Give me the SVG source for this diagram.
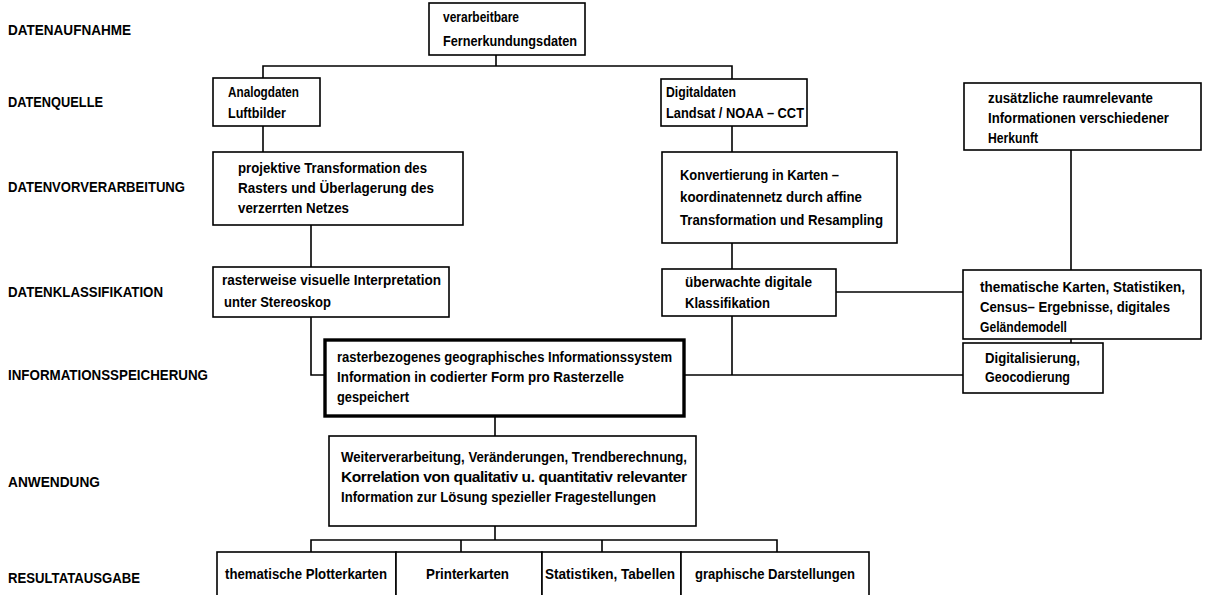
<svg xmlns="http://www.w3.org/2000/svg" width="1207" height="595" viewBox="0 0 1207 595">
<style>
text{font-family:"Liberation Sans Narrow","Liberation Sans",Arial,sans-serif;font-weight:bold;fill:#000;font-size:15.5px}
.lbl{font-size:15.5px}
.sm{font-size:14.5px}
.box{fill:#fff;stroke:#000;stroke-width:1.6}
.bold{fill:#fff;stroke:#000;stroke-width:3.4}
.c{fill:none;stroke:#000;stroke-width:1.6}
</style>
<rect width="1207" height="595" fill="#fff"/>
<g id="labels">
<text class="lbl" x="8" y="35" textLength="123" lengthAdjust="spacingAndGlyphs">DATENAUFNAHME</text>
<text class="lbl" x="8" y="107" textLength="95" lengthAdjust="spacingAndGlyphs">DATENQUELLE</text>
<text class="lbl" x="8" y="192" textLength="177" lengthAdjust="spacingAndGlyphs">DATENVORVERARBEITUNG</text>
<text class="lbl" x="8" y="297" textLength="155" lengthAdjust="spacingAndGlyphs">DATENKLASSIFIKATION</text>
<text class="lbl" x="8" y="380" textLength="200" lengthAdjust="spacingAndGlyphs">INFORMATIONSSPEICHERUNG</text>
<text class="lbl" x="8" y="487" textLength="92" lengthAdjust="spacingAndGlyphs">ANWENDUNG</text>
<text class="lbl" x="8" y="583" textLength="132" lengthAdjust="spacingAndGlyphs">RESULTATAUSGABE</text>
</g>
<g id="connectors">
<polyline class="c" points="496,55 496,66"/>
<polyline class="c" points="263,78 263,66 732,66 732,79"/>
<line class="c" x1="263" y1="126" x2="263" y2="152"/>
<line class="c" x1="732" y1="126" x2="732" y2="152"/>
<line class="c" x1="311" y1="225" x2="311" y2="267"/>
<line class="c" x1="732" y1="243" x2="732" y2="269"/>
<line class="c" x1="1071" y1="150" x2="1071" y2="270"/>
<line class="c" x1="836" y1="292" x2="963" y2="292"/>
<polyline class="c" points="311,317 311,375 325,375"/>
<line class="c" x1="684" y1="375" x2="963" y2="375"/>
<line class="c" x1="732" y1="316" x2="732" y2="375"/>
<line class="c" x1="1071" y1="339" x2="1071" y2="343"/>
<line class="c" x1="495" y1="416" x2="495" y2="436"/>
<line class="c" x1="495" y1="526" x2="495" y2="540"/>
<polyline class="c" points="311,552 311,540 777,540 777,552"/>
<line class="c" x1="461" y1="540" x2="461" y2="552"/>
<line class="c" x1="602" y1="540" x2="602" y2="552"/>
</g>
<g id="n-fernerkundung">
<rect class="box" x="429" y="3" width="156" height="52"/>
<text x="443" y="22" textLength="76" lengthAdjust="spacingAndGlyphs">verarbeitbare</text>
<text x="443" y="46" textLength="134" lengthAdjust="spacingAndGlyphs">Fernerkundungsdaten</text>
</g>
<g id="n-analog">
<rect class="box" x="213" y="78" width="107" height="48"/>
<text x="228" y="97" textLength="71" lengthAdjust="spacingAndGlyphs">Analogdaten</text>
<text x="228" y="118" textLength="58" lengthAdjust="spacingAndGlyphs">Luftbilder</text>
</g>
<g id="n-digital">
<rect class="box" x="661" y="79" width="146" height="47"/>
<text x="666" y="97" textLength="70" lengthAdjust="spacingAndGlyphs">Digitaldaten</text>
<text x="666" y="118" textLength="138" lengthAdjust="spacingAndGlyphs">Landsat / NOAA – CCT</text>
</g>
<g id="n-zusatz">
<rect class="box" x="964" y="83" width="237" height="67"/>
<text class="sm" x="988" y="103" textLength="165" lengthAdjust="spacingAndGlyphs">zusätzliche raumrelevante</text>
<text class="sm" x="988" y="123" textLength="181" lengthAdjust="spacingAndGlyphs">Informationen verschiedener</text>
<text class="sm" x="988" y="143" textLength="50" lengthAdjust="spacingAndGlyphs">Herkunft</text>
</g>
<g id="n-projektiv">
<rect class="box" x="213" y="152" width="250" height="73"/>
<text x="238" y="173" textLength="189" lengthAdjust="spacingAndGlyphs">projektive Transformation des</text>
<text x="238" y="193" textLength="196" lengthAdjust="spacingAndGlyphs">Rasters  und  Überlagerung des</text>
<text x="238" y="213" textLength="111" lengthAdjust="spacingAndGlyphs">verzerrten Netzes</text>
</g>
<g id="n-konvert">
<rect class="box" x="662" y="152" width="235" height="91"/>
<text x="680" y="180" textLength="159" lengthAdjust="spacingAndGlyphs">Konvertierung in Karten –</text>
<text x="680" y="202" textLength="182" lengthAdjust="spacingAndGlyphs">koordinatennetz durch affine</text>
<text x="680" y="225" textLength="203" lengthAdjust="spacingAndGlyphs">Transformation und Resampling</text>
</g>
<g id="n-raster">
<rect class="box" x="213" y="267" width="236" height="50"/>
<text x="222" y="285" textLength="219" lengthAdjust="spacingAndGlyphs">rasterweise visuelle Interpretation</text>
<text x="224" y="307" textLength="107" lengthAdjust="spacingAndGlyphs">unter Stereoskop</text>
</g>
<g id="n-ueberwacht">
<rect class="box" x="662" y="269" width="174" height="47"/>
<text x="685" y="287" textLength="127" lengthAdjust="spacingAndGlyphs">überwachte digitale</text>
<text x="685" y="308" textLength="85" lengthAdjust="spacingAndGlyphs">Klassifikation</text>
</g>
<g id="n-thematisch">
<rect class="box" x="963" y="270" width="238" height="69"/>
<text class="sm" x="980" y="292" textLength="205" lengthAdjust="spacingAndGlyphs">thematische Karten, Statistiken,</text>
<text class="sm" x="980" y="312" textLength="190" lengthAdjust="spacingAndGlyphs">Census–  Ergebnisse, digitales</text>
<text class="sm" x="980" y="332" textLength="87" lengthAdjust="spacingAndGlyphs">Geländemodell</text>
</g>
<g id="n-digitalisierung">
<rect class="box" x="963" y="343" width="140" height="50"/>
<text x="985" y="363" textLength="95" lengthAdjust="spacingAndGlyphs">Digitalisierung,</text>
<text x="985" y="382" textLength="85" lengthAdjust="spacingAndGlyphs">Geocodierung</text>
</g>
<g id="n-gis">
<rect class="bold" x="325" y="340" width="359" height="76"/>
<text x="337" y="362" textLength="335" lengthAdjust="spacingAndGlyphs">rasterbezogenes geographisches Informationssystem</text>
<text x="337" y="382" textLength="287" lengthAdjust="spacingAndGlyphs">Information  in  codierter  Form  pro  Rasterzelle</text>
<text x="337" y="402" textLength="72" lengthAdjust="spacingAndGlyphs">gespeichert</text>
</g>
<g id="n-weiter">
<rect class="box" x="329" y="436" width="367" height="90"/>
<text x="341" y="462" textLength="346" lengthAdjust="spacingAndGlyphs">Weiterverarbeitung, Veränderungen, Trendberechnung,</text>
<text x="341" y="482" textLength="346" lengthAdjust="spacing">Korrelation von qualitativ u. quantitativ relevanter</text>
<text x="341" y="502" textLength="315" lengthAdjust="spacingAndGlyphs">Information zur Lösung spezieller Fragestellungen</text>
</g>
<g id="n-plotter">
<rect class="box" x="217" y="552" width="179" height="60"/>
<text x="225" y="579" textLength="162" lengthAdjust="spacingAndGlyphs">thematische Plotterkarten</text>
</g>
<g id="n-printer">
<rect class="box" x="396" y="552" width="146" height="60"/>
<text x="426" y="579" textLength="83" lengthAdjust="spacingAndGlyphs">Printerkarten</text>
</g>
<g id="n-statistik">
<rect class="box" x="542" y="552" width="139" height="60"/>
<text x="545" y="579" textLength="130" lengthAdjust="spacingAndGlyphs">Statistiken, Tabellen</text>
</g>
<g id="n-graphisch">
<rect class="box" x="681" y="552" width="188" height="60"/>
<text x="695" y="579" textLength="160" lengthAdjust="spacingAndGlyphs">graphische Darstellungen</text>
</g>
</svg>
